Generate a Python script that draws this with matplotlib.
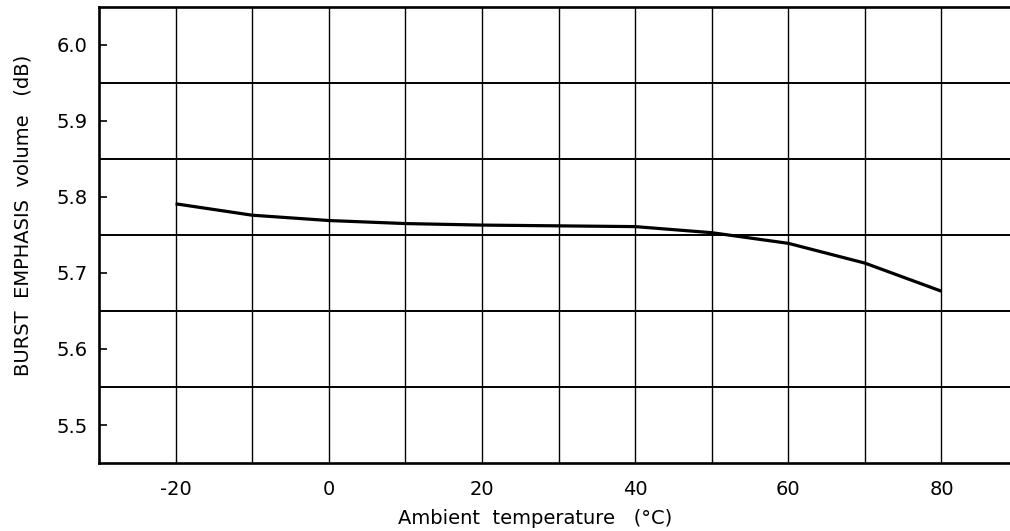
import matplotlib.pyplot as plt

plt.rcParams['font.family'] = ['DejaVu Sans']

# temperature sweep and measured burst emphasis volume
temps = [-20, -10, 0, 10, 20, 30, 40, 50, 60, 70, 80]
volume_db = [5.791, 5.776, 5.769, 5.765, 5.763, 5.762, 5.761, 5.753, 5.739, 5.713, 5.676]

x_ticks = [-20, 0, 20, 40, 60, 80]
y_ticks = [5.5, 5.6, 5.7, 5.8, 5.9, 6.0]
v_grid = [-20, -10, 0, 10, 20, 30, 40, 50, 60, 70, 80]
h_grid = [5.55, 5.65, 5.75, 5.85, 5.95]

fig = plt.figure(figsize=(10.1, 5.31), dpi=100)
ax = fig.add_axes([0.098, 0.128, 0.91, 0.859])

for x in v_grid:
    ax.axvline(x, color='black', lw=1.0, zorder=1)
for y in h_grid:
    ax.axhline(y, color='black', lw=1.4, zorder=1)

ax.plot(temps, volume_db, color='black', lw=2.3, solid_capstyle='butt', zorder=3)

ax.set_xlim(-30, 90)
ax.set_ylim(5.45, 6.05)
ax.set_xticks(x_ticks)
ax.set_xticklabels([str(t) for t in x_ticks])
ax.set_yticks(y_ticks)
ax.set_yticklabels(['%.1f' % v for v in y_ticks])

ax.tick_params(axis='x', length=0, pad=12, labelsize=14)
ax.tick_params(axis='y', direction='in', length=6, width=1.2, pad=8, labelsize=14)

for side in ['left', 'top', 'bottom']:
    ax.spines[side].set_linewidth(1.9)
ax.spines['right'].set_visible(False)

ax.set_ylabel('BURST  EMPHASIS  volume   (dB)', fontsize=14)
ax.yaxis.set_label_coords(-0.072, 0.544)
ax.set_xlabel('Ambient  temperature   (\u00b0C)', fontsize=14)
ax.xaxis.set_label_coords(0.474, -0.10)
ax.xaxis.label.set_va('top')

fig.savefig('out.png', dpi=100)
